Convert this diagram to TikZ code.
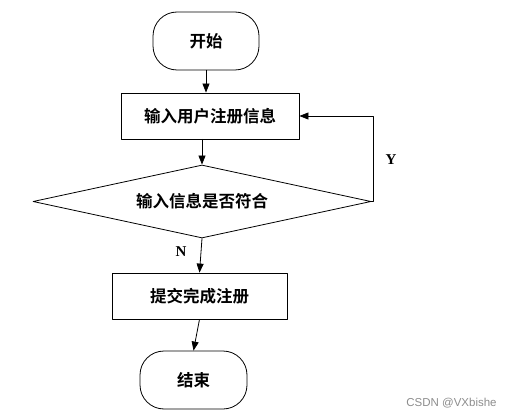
\documentclass[tikz,border=0pt]{standalone}
\usepackage{fontspec}
\usepackage{tikz}
\newfontfamily\cjk{Noto Sans CJK SC}[BoldFont={Noto Sans CJK SC Bold}]
\newfontfamily\latinfont{Liberation Serif}
\newfontfamily\wmfont{Liberation Sans}
\usetikzlibrary{arrows.meta, shapes.geometric}

\begin{document}
\begin{tikzpicture}[line cap=round,line join=round,>={Triangle[length=9pt,width=7pt]},x=1pt,y=-1pt,
  every node/.style={font=\cjk\bfseries\fontsize{16.5}{16.5}\selectfont},
  terminal/.style={draw, line width=0.8pt, rounded corners=24pt, inner sep=0pt},
  procbox/.style={draw, line width=0.8pt, inner sep=0pt},
  decision/.style={draw, line width=0.8pt, diamond, aspect=4.63, inner sep=0pt},
  flow/.style={->, line width=0.8pt},
  yn/.style={font=\latinfont\bfseries\fontsize{15}{15}\selectfont}]
\useasboundingbox (0,0) rectangle (514,417);

\node[terminal, minimum width=106pt, minimum height=58pt] (start) at (206,41) {开始};
\node[procbox, minimum width=178pt, minimum height=46pt] (input) at (210,116) {输入用户注册信息};
\node[decision, minimum width=338pt, minimum height=73pt] (check) at (202,201.5) {输入信息是否符合};
\node[procbox, minimum width=175pt, minimum height=46pt] (submit) at (199.5,296) {提交完成注册};
\node[terminal, minimum width=107pt, minimum height=58pt] (stop) at (193.5,380) {结束};

\draw[flow] (start.south) -- (start.south |- input.north);
\draw[flow] (input.south -| check.north) -- (check.north);
\draw[flow] (check.south) -- (submit.north);
\draw[flow] (submit.south) -- (stop.north);
\draw[flow] (check.east) -- ++(2,0) |- (input.east);

\begin{normalsize}
\draw[color=black] (391,160) node[yn] (lblY) {Y};
\draw[color=black] (181,252) node[yn] (lblN) {N};
\draw[color=black!45] (451.5,403) node[font=\wmfont\fontsize{11.5}{11.5}\selectfont] (mark) {CSDN @VXbishe};
\end{normalsize}

\end{tikzpicture}
\end{document}
